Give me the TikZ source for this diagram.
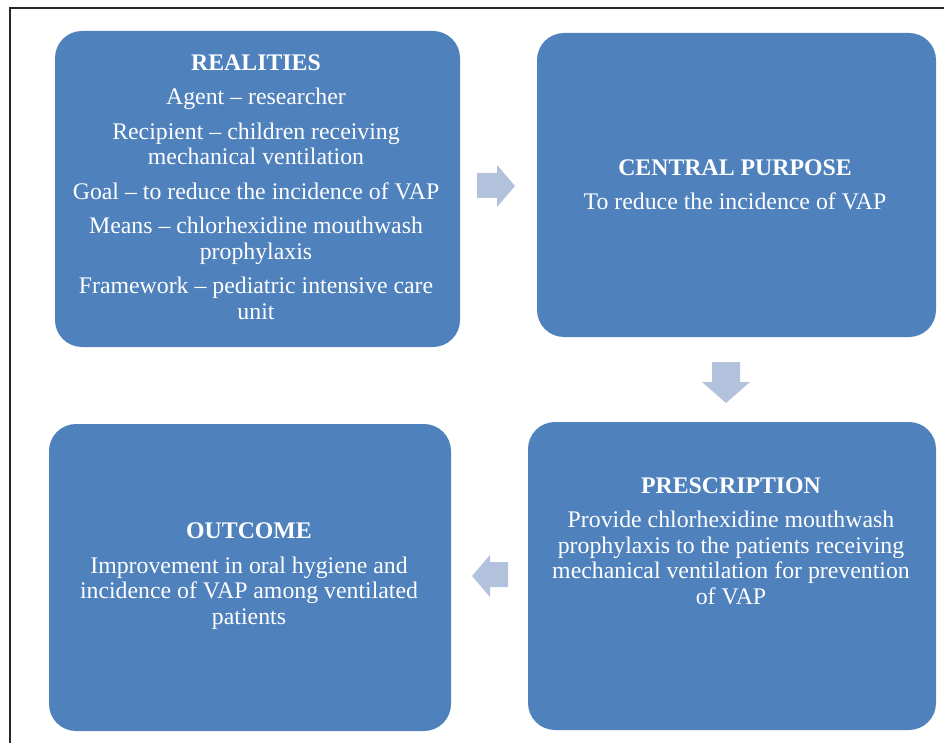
\documentclass[tikz,border=0pt]{standalone}
\usepackage{fontspec}
\setmainfont{Liberation Serif}
\begin{document}
\definecolor{boxblue}{RGB}{79,129,189}
\definecolor{arrowblue}{RGB}{178,194,220}
\definecolor{framegray}{RGB}{40,40,40}
\begin{tikzpicture}[x=1pt,y=-1pt,
  box/.style={fill=boxblue, draw=none, rounded corners=27pt, inner sep=0pt},
  label/.style={text=white, align=center, inner sep=0pt,
    font=\fontsize{23.8}{25.5}\selectfont},
  blockarrow/.style={fill=arrowblue, draw=none}]
\useasboundingbox (0,0) rectangle (944,743);
% frame around the figure
\draw[framegray, line width=1.8pt] (10,760) -- (10,8) -- (960,8);

% the four stages
\node[box, minimum width=405pt, minimum height=316pt] (realities) at (257.5,189) {};
\node[box, minimum width=399pt, minimum height=304pt] (purpose) at (736.5,185) {};
\node[box, minimum width=408pt, minimum height=308pt] (prescription) at (732,576) {};
\node[box, minimum width=402pt, minimum height=307pt] (outcome) at (250,577.5) {};

% stage texts
\node[label] (realitiesText) at (256,187) {\textbf{REALITIES}\\[9pt]
  Agent -- researcher\\[9pt]
  Recipient -- children receiving\\ mechanical ventilation\\[9pt]
  Goal -- to reduce the incidence of VAP\\[9pt]
  Means -- chlorhexidine mouthwash\\ prophylaxis\\[9pt]
  Framework -- pediatric intensive care\\ unit};
\node[label] (purposeText) at (735,185) {\textbf{CENTRAL PURPOSE}\\[9pt]
  To reduce the incidence of VAP};
\node[label] (prescriptionText) at (731,541) {\textbf{PRESCRIPTION}\\[9pt]
  Provide chlorhexidine mouthwash\\
  prophylaxis to the patients receiving\\
  mechanical ventilation for prevention\\
  of VAP};
\node[label] (outcomeText) at (249,576) {\textbf{OUTCOME}\\[9pt]
  Improvement in oral hygiene and\\
  incidence of VAP among ventilated\\
  patients};

% block arrows between the stages
\fill[blockarrow] (477,173) -- (497,173) -- (497,165) -- (515,186) -- (497,207) -- (497,198) -- (477,198) -- cycle;
\fill[blockarrow] (712,362) -- (740,362) -- (740,382) -- (750,382) -- (726,403) -- (702,382) -- (712,382) -- cycle;
\fill[blockarrow] (508,562) -- (490,562) -- (490,555) -- (472,576) -- (490,597) -- (490,587) -- (508,587) -- cycle;
\end{tikzpicture}
\end{document}
